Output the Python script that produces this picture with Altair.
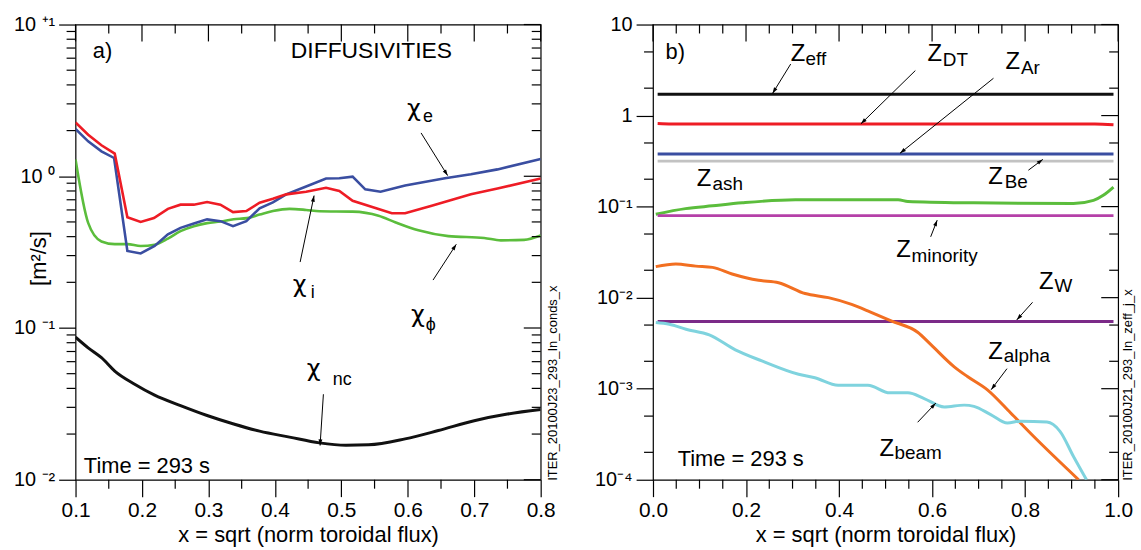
import math
import altair as alt
import pandas as pd

FONT = "Liberation Sans"
GREEK_FONT = "DejaVu Sans"
W, H = 468, 458

# ---------------- panel a) DIFFUSIVITIES ----------------
chi_e_x = [0.100, 0.119, 0.139, 0.158, 0.178, 0.198, 0.219, 0.239, 0.258, 0.278, 0.298, 0.318, 0.337, 0.357,
           0.377, 0.397, 0.417, 0.447, 0.477, 0.497, 0.517, 0.536, 0.559, 0.596, 0.656, 0.695, 0.735, 0.800]
chi_e_y = [2.05, 1.70, 1.46, 1.32, 0.322, 0.31, 0.347, 0.414, 0.457, 0.488, 0.52, 0.506, 0.469, 0.506,
           0.615, 0.673, 0.76, 0.857, 0.966, 0.97, 0.995, 0.82, 0.79, 0.87, 0.97, 1.03, 1.11, 1.30]

chi_i_x = [0.100, 0.119, 0.139, 0.159, 0.178, 0.198, 0.218, 0.239, 0.258, 0.278, 0.298, 0.318, 0.337, 0.357,
           0.377, 0.397, 0.417, 0.447, 0.477, 0.497, 0.517, 0.576, 0.596, 0.636, 0.695, 0.735, 0.800]
chi_i_y = [2.26, 1.88, 1.60, 1.41, 0.537, 0.50, 0.53, 0.61, 0.65, 0.65, 0.676, 0.65, 0.58, 0.59,
           0.67, 0.71, 0.76, 0.79, 0.84, 0.80, 0.69, 0.57, 0.57, 0.64, 0.76, 0.83, 0.965]

chi_phi_x = [0.100, 0.119, 0.139, 0.159, 0.178, 0.198, 0.219, 0.239, 0.258, 0.278, 0.298, 0.318, 0.338, 0.358,
             0.377, 0.397, 0.422, 0.447, 0.467, 0.517, 0.556, 0.581, 0.616, 0.661, 0.715, 0.740, 0.775, 0.800]
chi_phi_y = [1.29, 0.493, 0.372, 0.357, 0.357, 0.347, 0.354, 0.388, 0.435, 0.469, 0.491, 0.503, 0.521, 0.53,
             0.559, 0.59, 0.61, 0.60, 0.588, 0.585, 0.55, 0.498, 0.44, 0.403, 0.392, 0.378, 0.381, 0.407]

chi_nc_x = [0.100, 0.119, 0.139, 0.159, 0.189, 0.219, 0.258, 0.298, 0.338, 0.377, 0.422, 0.467, 0.507, 0.541,
            0.596, 0.646, 0.700, 0.750, 0.800]
chi_nc_y = [0.087, 0.074, 0.0637, 0.052, 0.0426, 0.0361, 0.0308, 0.0265, 0.0233, 0.0209, 0.0191, 0.0175, 0.0169,
            0.0170, 0.0186, 0.0211, 0.0245, 0.0271, 0.0290]

a_x_ticks = [0.1, 0.2, 0.3, 0.4, 0.5, 0.6, 0.7, 0.8]
a_x_minor = [0.15, 0.25, 0.35, 0.45, 0.55, 0.65, 0.75]
a_y_ticks = [0.01, 0.1, 1, 10]
a_y_labels = ["10 \u207b\u00b2", "10 \u207b\u00b9", "10 \u2070", "10 \u207a\u00b9"]
a_y_minor = [m * 10.0 ** k for k in (-2, -1, 0) for m in range(2, 10)]

a_text = ["a)", "DIFFUSIVITIES", "Time = 293 s"]
a_text_x = [0.126, 0.424, 0.1125]
a_text_y = [6.64, 6.64, 0.0124]
a_text_size = [22, 23, 22]

a_sym_x = [0.599, 0.427, 0.605, 0.448]
a_sym_y = [2.77, 0.192, 0.122, 0.0533]
a_sub = ["e", "i", "\u03d5", "nc"]
a_sub_x = [0.623, 0.454, 0.627, 0.487]
a_sub_y = [2.46, 0.170, 0.105, 0.0452]

a_arr_x1 = [0.620, 0.438, 0.638, 0.473]
a_arr_y1 = [1.93, 0.272, 0.207, 0.0366]
a_arr_x2 = [0.660, 0.459, 0.673, 0.468]
a_arr_y2 = [1.01, 0.746, 0.356, 0.0168]

a_note = "ITER_20100J23_293_In_conds_x"

# ---------------- panel b) Z ----------------
z_flat_x = [0.01, 0.99]
zeff_y = [1.71, 1.71]
zdt_x = [0.01, 0.04, 0.95, 0.99]
zdt_y = [0.82, 0.81, 0.81, 0.795]
zar_y = [0.378, 0.378]
zbe_y = [0.316, 0.316]
zmin_y = [0.0796, 0.0796]
zw_y = [0.00546, 0.00546]

zash_x = [0.006, 0.07, 0.128, 0.192, 0.306, 0.405, 0.527, 0.548, 0.69, 0.904, 0.947, 0.968, 0.99]
zash_y = [0.0826, 0.095, 0.102, 0.11, 0.119, 0.119, 0.119, 0.114, 0.110, 0.108, 0.117, 0.133, 0.164]

zalpha_x = [0.006, 0.049, 0.092, 0.128, 0.170, 0.227, 0.270, 0.327, 0.377, 0.427, 0.469, 0.512, 0.569,
            0.598, 0.647, 0.676, 0.719, 0.769, 0.818, 0.915]
zalpha_y = [0.0219, 0.0234, 0.0222, 0.0215, 0.0182, 0.0155, 0.0146, 0.0111, 0.0100, 0.00845, 0.0069, 0.00556,
            0.00417, 0.00303, 0.00175, 0.00136, 0.00097, 0.00054, 0.0003, 0.0001]

zbeam_x = [0.006, 0.035, 0.071, 0.121, 0.177, 0.234, 0.313, 0.348, 0.398, 0.462, 0.509, 0.548, 0.583, 0.626,
           0.669, 0.690, 0.726, 0.762, 0.790, 0.847, 0.875, 0.904, 0.932]
zbeam_y = [0.00532, 0.0051, 0.0045, 0.0039, 0.00267, 0.00202, 0.00144, 0.00132, 0.00109, 0.00109, 0.00090,
           0.00090, 0.00078, 0.00063, 0.00066, 0.00064, 0.00052, 0.00042, 0.00044, 0.00043, 0.00034, 0.00018,
           0.0001]

b_x_ticks = [0.0, 0.2, 0.4, 0.6, 0.8, 1.0]
b_x_minor = [round(0.05 * i, 2) for i in range(21) if i % 4 != 0]
b_y_ticks = [1e-4, 1e-3, 1e-2, 1e-1, 1, 10]
b_y_labels = ["10\u207b\u2074", "10\u207b\u00b3", "10\u207b\u00b2", "10\u207b\u00b9", "1", "10"]
b_y_minor = [m * 10.0 ** k for k in (-4, -3, -2, -1, 0) for m in (2, 5)]

b_text = ["b)", "Time = 293 s"]
b_text_x = [0.027, 0.053]
b_text_y = [4.95, 0.000169]
b_text_size = [22, 22]

b_sym_x = [0.296, 0.590, 0.758, 0.094, 0.721, 0.523, 0.830, 0.721, 0.487]
b_sym_y = [4.74, 4.74, 3.85, 0.203, 0.211, 0.0333, 0.0148, 0.0025, 0.000216]
b_sub = ["eff", "DT", "Ar", "ash", "Be", "minority", "W", "alpha", "beam"]
b_sub_x = [0.328, 0.623, 0.791, 0.128, 0.756, 0.556, 0.863, 0.754, 0.519]
b_sub_y = [4.15, 4.05, 3.31, 0.179, 0.187, 0.0288, 0.01352, 0.00226, 0.000195]

b_arr_x1 = [0.296, 0.564, 0.732, 0.807, 0.597, 0.816, 0.761, 0.569]
b_arr_y1 = [3.68, 3.12, 2.57, 0.251, 0.0466, 0.00889, 0.00166, 0.000428]
b_arr_x2 = [0.257, 0.447, 0.531, 0.838, 0.611, 0.782, 0.727, 0.608]
b_arr_y2 = [1.75, 0.811, 0.385, 0.330, 0.0710, 0.00570, 0.000975, 0.000695]

b_note = "ITER_20100J21_293_In_zeff_j_x"

RED, BLUE, GREEN, BLACK = "#ee1c25", "#3a4ea1", "#5bbd3c", "#111111"
GRAY, MAGENTA, PURPLE, ORANGE, CYAN = "#c2c2c2", "#b540a8", "#7b2a88", "#f26f21", "#7fd3de"


def label_expr(values, labels):
    expr = "'" + labels[-1] + "'"
    for i in range(len(values) - 2, -1, -1):
        thr = math.sqrt(values[i] * values[i + 1])
        expr = f"datum.value < {thr} ? '{labels[i]}' : ({expr})"
    return expr


def panel(xdom, ydom, xticks, xminor, xfmt, yticks, ylabels, yminor, ytitle, lines,
          texts, syms, subs, arrows, note, note_x, sym_font, sub_size):
    xs = alt.Scale(domain=xdom, nice=False, zero=False)
    ys = alt.Scale(type="log", domain=ydom, nice=False)
    xaxis = alt.Axis(values=xticks, format=xfmt, title="x = sqrt (norm toroidal flux)", tickSize=17,
                     tickWidth=1.2, tickColor="black", domain=False, grid=False, labelFlush=False,
                     labelPadding=3, labelFontSize=21, titleFontSize=22, titlePadding=4)
    yargs = dict(values=yticks, labelExpr=label_expr(yticks, ylabels), tickSize=17, tickWidth=1.2,
                 tickColor="black", domain=False, grid=False, labelPadding=4, labelFontSize=20,
                 labelFlush=False)
    if ytitle:
        yaxis = alt.Axis(title=ytitle, titleX=-37, titleY=235, titleAngle=270, titleAlign="center",
                         titleBaseline="middle", titleFontSize=22, **yargs)
    else:
        yaxis = alt.Axis(title=None, **yargs)

    def X(f="x"):
        return alt.X(f"{f}:Q", scale=xs, axis=xaxis)

    def Y(f="y"):
        return alt.Y(f"{f}:Q", scale=ys, axis=yaxis)

    layers = []
    for xv, yv, col, interp, sw in lines:
        df = pd.DataFrame({"x": xv, "y": yv})
        layers.append(alt.Chart(df).mark_line(color=col, strokeWidth=sw, interpolate=interp, clip=True)
                      .encode(x=X(), y=Y()))

    # mirrored / minor ticks
    xmaj = pd.DataFrame({"x": xticks})
    xmin = pd.DataFrame({"x": xminor})
    ymaj = pd.DataFrame({"y": yticks})
    ymin = pd.DataFrame({"y": yminor})
    tk = dict(color="black", strokeWidth=1.2)
    layers.append(alt.Chart(xmin).mark_rule(**tk).encode(x=X(), y=alt.value(H), y2=alt.value(H + 9)))
    layers.append(alt.Chart(xmin).mark_rule(**tk).encode(x=X(), y=alt.value(0), y2=alt.value(9)))
    layers.append(alt.Chart(xmaj).mark_rule(**tk).encode(x=X(), y=alt.value(0), y2=alt.value(17)))
    layers.append(alt.Chart(ymin).mark_rule(**tk).encode(y=Y(), x=alt.value(-9), x2=alt.value(0)))
    layers.append(alt.Chart(ymin).mark_rule(**tk).encode(y=Y(), x=alt.value(W - 9), x2=alt.value(W)))
    layers.append(alt.Chart(ymaj).mark_rule(**tk).encode(y=Y(), x=alt.value(W - 17), x2=alt.value(W)))

    # plain texts
    t, tx, ty, tsz = texts
    layers.append(alt.Chart(pd.DataFrame({"x": tx, "y": ty, "t": t, "s": tsz}))
                  .mark_text(font=FONT, align="left", baseline="middle", color="black")
                  .encode(x=X(), y=Y(), text="t:N", size=alt.Size("s:Q", scale=None)))
    sym, sx, sy = syms
    layers.append(alt.Chart(pd.DataFrame({"x": sx, "y": sy, "t": [sym] * len(sx)}))
                  .mark_text(font=sym_font, fontSize=24, align="left", baseline="middle", color="black")
                  .encode(x=X(), y=Y(), text="t:N"))
    st, stx, sty = subs
    layers.append(alt.Chart(pd.DataFrame({"x": stx, "y": sty, "t": st}))
                  .mark_text(font=FONT, fontSize=sub_size, align="left", baseline="middle", color="black")
                  .encode(x=X(), y=Y(), text="t:N"))

    # arrows
    x1, y1, x2, y2 = arrows
    lx0, lx1 = xdom
    ly0, ly1 = math.log10(ydom[0]), math.log10(ydom[1])

    def px(v):
        return (v - lx0) / (lx1 - lx0) * W

    def py(v):
        return (1 - (math.log10(v) - ly0) / (ly1 - ly0)) * H

    angs = [math.degrees(math.atan2(px(b) - px(a), -(py(d) - py(c)))) % 360
            for a, c, b, d in zip(x1, y1, x2, y2)]
    adf = pd.DataFrame({"x": x1, "y": y1, "x2": x2, "y2": y2})
    layers.append(alt.Chart(adf).mark_rule(color="black", strokeWidth=1)
                  .encode(x=X(), y=Y(), x2="x2:Q", y2="y2:Q"))
    hdf = pd.DataFrame({"x": x2, "y": y2, "ang": angs})
    layers.append(alt.Chart(hdf).mark_point(shape="M0,0L-0.32,1L0.32,1Z", filled=True, size=150,
                                            color="black", opacity=1, strokeWidth=0)
                  .encode(x=X(), y=Y(), angle=alt.Angle("ang:Q", scale=None)))

    # rotated file tag
    layers.append(alt.Chart(pd.DataFrame({"t": [note]}))
                  .mark_text(font=FONT, fontSize=13, angle=270, align="left", baseline="middle",
                             color="black")
                  .encode(x=alt.value(note_x), y=alt.value(H + 1), text="t:N"))

    return alt.layer(*layers).properties(width=W, height=H)


left = panel([0.1, 0.8], [0.01, 10], a_x_ticks, a_x_minor, ".1f", a_y_ticks, a_y_labels, a_y_minor,
             "[m\u00b2/s]",
             [(chi_nc_x, chi_nc_y, BLACK, "monotone", 3),
              (chi_phi_x, chi_phi_y, GREEN, "monotone", 2.6),
              (chi_e_x, chi_e_y, BLUE, "linear", 2.6),
              (chi_i_x, chi_i_y, RED, "linear", 2.6)],
             (a_text, a_text_x, a_text_y, a_text_size),
             ("\u03c7", a_sym_x, a_sym_y),
             (a_sub, a_sub_x, a_sub_y),
             (a_arr_x1, a_arr_y1, a_arr_x2, a_arr_y2),
             a_note, 480, GREEK_FONT, 18)

right = panel([0.0, 1.0], [1e-4, 10], b_x_ticks, b_x_minor, ".1f", b_y_ticks, b_y_labels, b_y_minor,
              None,
              [(z_flat_x, zeff_y, BLACK, "linear", 3),
               (zdt_x, zdt_y, RED, "monotone", 3),
               (z_flat_x, zar_y, BLUE, "linear", 3),
               (z_flat_x, zbe_y, GRAY, "linear", 3),
               (zash_x, zash_y, GREEN, "monotone", 3),
               (z_flat_x, zmin_y, MAGENTA, "linear", 3),
               (z_flat_x, zw_y, PURPLE, "linear", 3),
               (zalpha_x, zalpha_y, ORANGE, "monotone", 3),
               (zbeam_x, zbeam_y, CYAN, "monotone", 3)],
              (b_text, b_text_x, b_text_y, b_text_size),
              ("Z", b_sym_x, b_sym_y),
              (b_sub, b_sub_x, b_sub_y),
              (b_arr_x1, b_arr_y1, b_arr_x2, b_arr_y2),
              b_note, 478, FONT, 19)

chart = (alt.hconcat(left, right, spacing=33)
         .properties(padding={"left": 12, "top": 12, "right": 5, "bottom": 0}, background="white")
         .configure_view(stroke="black", strokeWidth=1.2)
         .configure_axis(labelFont=FONT, titleFont=FONT, labelColor="black", titleColor="black",
                         titleFontWeight="normal"))

chart.save("out.html", embed_options={"renderer": "svg", "actions": False})
